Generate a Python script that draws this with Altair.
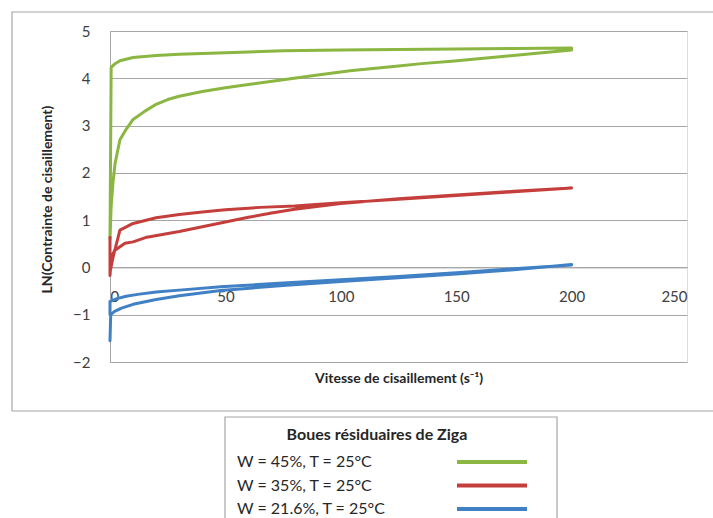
import altair as alt
import pandas as pd

# Shear-rate sweeps (up then down) for three water contents of the Ziga sludge.
series_names = ["W = 45%, T = 25°C", "W = 35%, T = 25°C", "W = 21.6%, T = 25°C"]
series_colors = ["#8ab641", "#c43e3c", "#4080c4"]

# W = 45 % : closed hysteresis loop
w45_x = [0, 0.5, 1.3, 2.2, 4.3, 7, 10, 15, 20, 25, 30, 40, 50, 60, 75, 90, 104, 125, 135, 148, 170, 185, 200,
         200, 175, 150, 125, 100, 75, 50, 30, 20, 10, 4.3, 2, 0.5, 0]
w45_y = [0.6, 1.3, 1.8, 2.2, 2.7, 2.92, 3.13, 3.3, 3.45, 3.55, 3.62, 3.72, 3.8, 3.87, 3.97, 4.07, 4.16, 4.26, 4.31, 4.36, 4.46, 4.53, 4.6,
         4.64, 4.63, 4.62, 4.61, 4.6, 4.58, 4.54, 4.51, 4.48, 4.44, 4.37, 4.3, 4.23, 0.6]

# W = 35 %
w35_x = [0, 0, 0.5, 2, 6.5, 10, 16, 30, 40, 50, 60, 70, 80, 100, 125, 150, 175, 200,
         175, 150, 125, 100, 80, 65, 50, 40, 30, 20, 10, 4.3, 1.3, 0]
w35_y = [0.64, -0.17, 0.2, 0.36, 0.51, 0.54, 0.64, 0.76, 0.86, 0.96, 1.06, 1.15, 1.23, 1.35, 1.45, 1.53, 1.61, 1.68,
         1.6, 1.52, 1.44, 1.37, 1.3, 1.27, 1.22, 1.17, 1.12, 1.05, 0.93, 0.79, 0.21, -0.1]

# W = 21.6 %
w216_x = [0, 0.3, 2, 5, 10, 20, 30, 48, 75, 100, 125, 150, 175, 200,
          200, 175, 150, 125, 100, 75, 48, 30, 20, 12, 7, 3, 1, 0, 0]
w216_y = [-1.55, -1.0, -0.93, -0.86, -0.78, -0.68, -0.6, -0.49, -0.38, -0.3, -0.22, -0.14, -0.05, 0.06,
          0.05, -0.03, -0.11, -0.19, -0.26, -0.33, -0.41, -0.48, -0.52, -0.57, -0.61, -0.66, -0.7, -0.72, -1.0]

x_ticks = [0, 50, 100, 150, 200, 250]
y_ticks = [-2, -1, 0, 1, 2, 3, 4, 5]

frames = []
for name, xs, ys in zip(series_names, [w45_x, w35_x, w216_x], [w45_y, w35_y, w216_y]):
    frames.append(pd.DataFrame({"serie": name, "ordre": range(len(xs)), "x": xs, "y": ys}))
data = pd.concat(frames, ignore_index=True)

FONT = "Lato"
GRID = "#a6a6a6"
W, H = 577, 331

color_scale = alt.Scale(domain=series_names, range=series_colors)

lines = alt.Chart(data).mark_line(strokeWidth=3, strokeCap="round", strokeJoin="round").encode(
    x=alt.X("x:Q", scale=alt.Scale(domain=[0, 250], nice=False),
            axis=alt.Axis(values=x_ticks, grid=False, ticks=False, offset=-94.6,
                          domainColor=GRID, labelPadding=22, labelFontSize=15, labelColor="#404040",
                          labelFont=FONT, title="Vitesse de cisaillement  (s⁻¹)",
                          titleFont=FONT, titleFontSize=14, titleFontWeight="bold", titleColor="#262626",
                          titleY=111, titleBaseline="middle")),
    y=alt.Y("y:Q", scale=alt.Scale(domain=[-2, 5], nice=False),
            axis=alt.Axis(values=y_ticks, grid=True, gridColor=GRID, ticks=False, domainColor=GRID,
                          labelPadding=20, labelFontSize=15, labelColor="#404040", labelFont=FONT,
                          title="LN(Contrainte de cisaillement)", titleFont=FONT, titleFontSize=14,
                          titleFontWeight="bold", titleColor="#262626", titleX=-63, titleY=168,
                          titleAngle=270, titleAlign="center", titleBaseline="middle")),
    color=alt.Color("serie:N", scale=color_scale, legend=None),
    order="ordre:Q",
    detail="serie:N",
)

one = pd.DataFrame({"k": [0]})

# outer chart frame
frame = alt.Chart(one).mark_rect(fillOpacity=0, stroke="#a6a6a6", strokeWidth=1.2).encode(
    x=alt.value(-98), x2=alt.value(610), y=alt.value(-19), y2=alt.value(380)
)

# legend box with title and entries
legend_box = alt.Chart(one).mark_rect(fill="white", stroke="#a6a6a6", strokeWidth=1.2).encode(
    x=alt.value(115), x2=alt.value(447), y=alt.value(386), y2=alt.value(500)
)
legend_title = alt.Chart(pd.DataFrame({"t": ["Boues résiduaires de Ziga"]})).mark_text(
    font=FONT, fontSize=16, fontWeight="bold", color="#262626", align="center", baseline="middle"
).encode(text="t:N", x=alt.value(267), y=alt.value(404))

legend_layers = [legend_box, legend_title]
for i, (name, col) in enumerate(zip(series_names, series_colors)):
    yy = 431 + 23.5 * i
    legend_layers.append(
        alt.Chart(pd.DataFrame({"t": [name]})).mark_text(
            font=FONT, fontSize=16, color="#262626", align="left", baseline="middle"
        ).encode(text="t:N", x=alt.value(127), y=alt.value(yy))
    )
    legend_layers.append(
        alt.Chart(one).mark_rule(color=col, strokeWidth=4).encode(
            x=alt.value(347), x2=alt.value(417), y=alt.value(yy)
        )
    )

chart = alt.layer(frame, lines, *legend_layers).properties(
    width=W, height=H,
    autosize=alt.AutoSizeParams(type="none"),
    padding={"left": 110, "top": 31, "right": 26, "bottom": 156},
).configure_view(stroke=None).configure(background="white")

chart.save("out.html", embed_options={"renderer": "svg", "actions": False})
